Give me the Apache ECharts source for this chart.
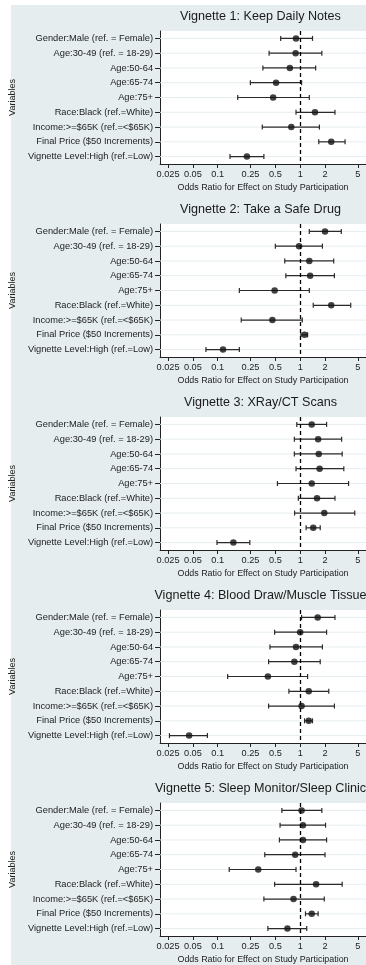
<!DOCTYPE html>
<html>
<head>
<meta charset="utf-8">
<script src="https://cdn.jsdelivr.net/npm/echarts@6/dist/echarts.min.js"></script>
<style>
html,body{margin:0;padding:0;background:#fff;}
#chart{width:366px;height:965px;}
</style>
</head>
<body>
<div id="chart"></div>
<script>
const categories = [
  'Gender:Male (ref. = Female)',
  'Age:30-49 (ref. = 18-29)',
  'Age:50-64',
  'Age:65-74',
  'Age:75+',
  'Race:Black (ref.=White)',
  'Income:>=$65K (ref.=<$65K)',
  'Final Price ($50 Increments)',
  'Vignette Level:High (ref.=Low)'
];
const titles = [
  'Vignette 1: Keep Daily Notes',
  'Vignette 2: Take a Safe Drug',
  'Vignette 3: XRay/CT Scans',
  'Vignette 4: Blood Draw/Muscle Tissue',
  'Vignette 5: Sleep Monitor/Sleep Clinic'
];
const tickValues = [0.025, 0.05, 0.1, 0.25, 0.5, 1, 2, 5];
const xTitle = 'Odds Ratio for Effect on Study Participation';
const yTitle = 'Variables';

const v1Or = [0.89, 0.88, 0.75, 0.51, 0.47, 1.51, 0.78, 2.38, 0.226];
const v1Lo = [0.58, 0.42, 0.353, 0.249, 0.175, 0.89, 0.347, 1.68, 0.141];
const v1Hi = [1.41, 1.83, 1.54, 1.04, 1.29, 2.64, 1.71, 3.5, 0.363];

const v2Or = [2.0, 0.97, 1.29, 1.32, 0.49, 2.38, 0.46, 1.13, 0.116];
const v2Lo = [1.29, 0.5, 0.65, 0.67, 0.183, 1.44, 0.193, 1.02, 0.072];
const v2Hi = [3.15, 1.86, 2.55, 2.6, 1.29, 4.1, 1.06, 1.23, 0.183];

const v3Or = [1.38, 1.65, 1.68, 1.72, 1.38, 1.6, 1.96, 1.44, 0.155];
const v3Lo = [0.91, 0.85, 0.85, 0.89, 0.53, 0.95, 0.855, 1.18, 0.098];
const v3Hi = [2.09, 3.18, 3.23, 3.38, 3.86, 2.64, 4.59, 1.75, 0.245];

const v4Or = [1.63, 1.0, 0.89, 0.85, 0.406, 1.27, 1.04, 1.27, 0.045];
const v4Lo = [1.04, 0.49, 0.43, 0.414, 0.132, 0.73, 0.414, 1.13, 0.026];
const v4Hi = [2.64, 2.09, 1.86, 1.75, 1.23, 2.22, 2.6, 1.41, 0.075];

const v5Or = [1.04, 1.08, 1.08, 0.87, 0.31, 1.56, 0.83, 1.38, 0.7];
const v5Lo = [0.6, 0.57, 0.56, 0.372, 0.138, 0.49, 0.363, 1.16, 0.406];
const v5Hi = [1.83, 2.03, 2.09, 2.0, 0.89, 3.23, 1.96, 1.65, 1.2];

const panels = [
  [v1Or, v1Lo, v1Hi],
  [v2Or, v2Lo, v2Hi],
  [v3Or, v3Lo, v3Hi],
  [v4Or, v4Lo, v4Hi],
  [v5Or, v5Lo, v5Hi]
];

const FONT = '"Liberation Sans", Arial, Helvetica, sans-serif';
const PANEL_H = 193;
const TXT = '#222';
const AXIS = '#222';
const BG = '#e5edef';
const GRIDLINE = '#e6edef';

const grids = [], xAxes = [], yAxes = [], series = [], titleList = [];

panels.forEach(function (p, i) {
  const top = PANEL_H * i;
  grids.push({
    left: 151, right: -4, top: top + 31, height: 133,
    show: true, backgroundColor: '#ffffff', borderWidth: 0
  });
  titleList.push({
    text: titles[i], left: 260.5, top: top + 10, padding: 0,
    textAlign: 'center',
    textStyle: { fontFamily: FONT, fontSize: 12.6, fontWeight: 'normal', color: '#1a1a1a' }
  });
  xAxes.push({
    type: 'log', gridIndex: i, min: 0.02, max: 6.28, logBase: 10,
    name: xTitle, nameLocation: 'middle', nameGap: 19,
    nameTextStyle: { fontFamily: FONT, fontSize: 8.9, color: TXT },
    axisLine: { show: true, lineStyle: { color: AXIS, width: 1 } },
    axisTick: { show: true, length: 4, customValues: tickValues, lineStyle: { color: AXIS } },
    axisLabel: {
      show: true, margin: 6, customValues: tickValues,
      fontFamily: FONT, fontSize: 9.2, color: TXT,
      formatter: function (v) { return String(+Number(v).toPrecision(3)); }
    },
    splitLine: { show: false },
    minorTick: { show: false }
  });
  yAxes.push({
    type: 'category', gridIndex: i, data: categories, inverse: true,
    name: yTitle, nameLocation: 'middle', nameGap: 121, nameRotate: 90,
    nameTextStyle: { fontFamily: FONT, fontSize: 9, color: TXT },
    axisLine: { show: true, lineStyle: { color: AXIS, width: 1 } },
    axisTick: { show: true, alignWithLabel: true, length: 5, lineStyle: { color: AXIS } },
    axisLabel: { margin: 7, fontFamily: FONT, fontSize: 9.3, color: TXT, interval: 0 },
    splitLine: { show: false }
  });
  const rows = categories.map(function (c, k) { return [p[0][k], k, p[1][k], p[2][k]]; });
  // faint horizontal gridlines at each row
  series.push({
    type: 'custom', xAxisIndex: i, yAxisIndex: i, silent: true, z: 1,
    data: rows,
    renderItem: function (params, api) {
      const y = api.coord([1, api.value(1)])[1];
      const cs = params.coordSys;
      return {
        type: 'line',
        shape: { x1: cs.x, y1: y, x2: cs.x + cs.width, y2: y },
        style: { stroke: GRIDLINE, lineWidth: 1 }
      };
    }
  });
  // confidence intervals
  series.push({
    type: 'custom', xAxisIndex: i, yAxisIndex: i, silent: true, z: 3,
    data: rows,
    renderItem: function (params, api) {
      const a = api.coord([api.value(2), api.value(1)]);
      const b = api.coord([api.value(3), api.value(1)]);
      const st = { stroke: '#2b2b2b', lineWidth: 1.2 };
      return {
        type: 'group',
        children: [
          { type: 'line', shape: { x1: a[0], y1: a[1], x2: b[0], y2: b[1] }, style: st },
          { type: 'line', shape: { x1: a[0], y1: a[1] - 2.5, x2: a[0], y2: a[1] + 2.5 }, style: st },
          { type: 'line', shape: { x1: b[0], y1: b[1] - 2.5, x2: b[0], y2: b[1] + 2.5 }, style: st }
        ]
      };
    }
  });
  // point estimates + reference line at OR = 1
  series.push({
    type: 'scatter', xAxisIndex: i, yAxisIndex: i, silent: true, z: 4,
    symbol: 'circle', symbolSize: 6.5,
    itemStyle: { color: '#111111' },
    data: rows.map(function (r) { return [r[0], r[1]]; }),
    markLine: {
      silent: true, symbol: 'none', animation: false,
      label: { show: false },
      lineStyle: { color: '#000', width: 1.3, type: [4, 3] },
      data: [{ xAxis: 1 }]
    }
  });
});

const chart = echarts.init(document.getElementById('chart'), null, { renderer: 'canvas' });
chart.setOption({
  animation: false,
  backgroundColor: '#ffffff',
  graphic: [{
    type: 'rect', z: -10, silent: true,
    shape: { x: 11, y: 5, width: 355, height: 960 },
    style: { fill: BG }
  }],
  title: titleList,
  grid: grids,
  xAxis: xAxes,
  yAxis: yAxes,
  series: series
});
</script>
</body>
</html>
